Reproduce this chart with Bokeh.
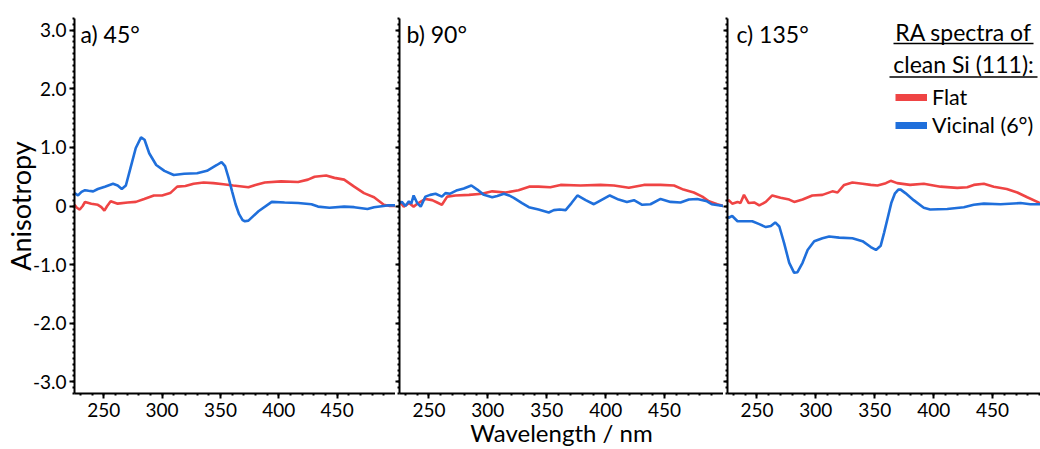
from bokeh.plotting import figure
from bokeh.layouts import row
from bokeh.models import FixedTicker, Label, Legend, LegendItem
from bokeh.embed import file_html
from bokeh.resources import INLINE

# ---------------- data ----------------
# panel a) 45 deg
a_flat_wl = [225, 227, 229.5, 232, 234, 239.4, 245, 248, 250.6, 253, 256, 262, 270.6, 277.6, 284.7, 293, 300, 307, 313, 320,
             327, 335.6, 344, 352.6, 361, 374, 380, 388, 402, 416.6, 425, 430.7, 440.6, 447.7, 456, 464.6, 473, 481.6, 490, 495, 500]
a_flat_ra = [0.02, -0.03, -0.06, 0.0, 0.07, 0.04, 0.02, -0.02, -0.08, 0.0, 0.08, 0.04, 0.06, 0.07, 0.12, 0.18, 0.18, 0.22, 0.33, 0.34,
             0.38, 0.40, 0.39, 0.37, 0.35, 0.32, 0.36, 0.40, 0.42, 0.41, 0.45, 0.50, 0.52, 0.48, 0.45, 0.33, 0.22, 0.15, 0.02, 0.0, 0.0]
a_vic_wl = [225, 228, 231, 234, 237, 241, 245, 251, 258, 262, 265.5, 269, 273, 277.5, 282, 285, 289, 295, 302, 310, 319, 330,
            338.5, 347, 351, 354, 357, 360, 363, 366, 369, 371, 374, 382.6, 394, 405, 416.6, 428, 433.6, 443.4, 456, 464.6, 476,
            481.6, 493, 500]
a_vic_ra = [0.22, 0.18, 0.24, 0.27, 0.26, 0.25, 0.29, 0.33, 0.38, 0.35, 0.29, 0.35, 0.65, 0.99, 1.17, 1.13, 0.90, 0.70, 0.60, 0.53,
            0.55, 0.56, 0.60, 0.70, 0.75, 0.68, 0.48, 0.25, 0.03, -0.14, -0.24, -0.26, -0.25, -0.09, 0.07, 0.06, 0.05, 0.03, -0.01,
            -0.03, -0.01, -0.02, -0.05, -0.02, 0.01, 0.01]

# panel b) 90 deg
b_flat_wl = [225, 228.6, 233, 237, 241, 247, 252.7, 257, 261, 265.5, 272.5, 284, 295, 303.7, 315, 326, 335, 343, 353, 361.7,
             378.6, 395.6, 407, 419.7, 432.4, 446.6, 458, 466, 474.8, 482, 487.6, 494.7, 500]
b_flat_ra = [0.08, -0.01, 0.05, -0.01, 0.05, 0.12, 0.10, 0.06, 0.02, 0.16, 0.18, 0.19, 0.21, 0.25, 0.23, 0.27, 0.33, 0.33, 0.32, 0.36,
             0.35, 0.36, 0.35, 0.31, 0.36, 0.36, 0.35, 0.28, 0.23, 0.16, 0.08, 0.03, 0.0]
b_vic_wl = [225, 227, 230, 233, 235, 237, 240, 243, 247, 251, 255.6, 261, 264, 268, 274, 279.6, 286, 291, 296.6, 303.7, 308,
            313.6, 318, 322, 329, 334.8, 343, 351.7, 356, 361, 366, 371, 376, 383, 390, 397, 403.5, 411, 418, 424, 431, 438,
            446.6, 455, 463.5, 470.6, 477.7, 486, 490, 500]
b_vic_ra = [0.05, 0.07, 0.0, 0.08, 0.04, 0.18, 0.05, -0.01, 0.16, 0.19, 0.21, 0.16, 0.22, 0.21, 0.27, 0.30, 0.35, 0.28, 0.19, 0.15,
            0.17, 0.21, 0.18, 0.14, 0.05, -0.02, -0.06, -0.11, -0.07, -0.06, -0.07, 0.05, 0.18, 0.10, 0.03, 0.11, 0.18, 0.11,
            0.07, 0.10, 0.02, 0.03, 0.12, 0.07, 0.06, 0.11, 0.12, 0.08, 0.03, 0.0]

# panel c) 135 deg
c_flat_wl = [225, 226, 229, 233.5, 236, 239, 243, 247.6, 252, 257.5, 263, 270, 277.4, 281.6, 288.7, 297, 305.6, 314, 318.4, 324,
             331, 339.6, 346.6, 352.3, 359.4, 363.5, 369, 380, 391.6, 405.8, 420, 428.5, 434, 442.6, 451, 462, 471, 479.4, 488, 490.7]
c_flat_ra = [0.08, 0.10, 0.04, 0.07, 0.05, 0.19, 0.05, 0.06, 0.01, 0.07, 0.18, 0.14, 0.11, 0.07, 0.11, 0.18, 0.19, 0.25, 0.23, 0.36,
             0.40, 0.38, 0.36, 0.35, 0.39, 0.43, 0.39, 0.36, 0.38, 0.33, 0.31, 0.32, 0.36, 0.38, 0.33, 0.29, 0.23, 0.15, 0.07, 0.04]
c_vic_wl = [225, 226, 229, 233.5, 240.5, 246, 252, 257.5, 261.8, 265.5, 269, 273, 277.4, 281.6, 284.4, 288.7, 293, 298.6, 305.6,
            311.3, 319.8, 331, 339.6, 346.6, 351, 355, 358, 361, 364, 367, 370, 372, 376, 383, 391.6, 397, 411.5, 425.6, 434,
            442.6, 456.7, 473.7, 482, 490.7]
c_vic_ra = [-0.18, -0.20, -0.17, -0.26, -0.26, -0.26, -0.31, -0.36, -0.34, -0.28, -0.35, -0.63, -0.97, -1.14, -1.13, -0.97, -0.75,
            -0.60, -0.55, -0.52, -0.54, -0.55, -0.60, -0.70, -0.75, -0.68, -0.45, -0.20, 0.05, 0.21, 0.28, 0.28, 0.22, 0.10, -0.03,
            -0.06, -0.05, -0.02, 0.02, 0.04, 0.03, 0.05, 0.03, 0.03]

panel_titles = ["a) 45°", "b) 90°", "c) 135°"]
series_names = ["Flat", "Vicinal (6°)"]
legend_title = ["RA spectra of", "clean Si (111):"]
x_title = "Wavelength / nm"
y_title = "Anisotropy"
x_ticks = [250, 300, 350, 400, 450]
y_ticks = [-3, -2, -1, 0, 1, 2, 3]
y_tick_labels = ["-3.0", "-2.0", "-1.0", "0", "1.0", "2.0", "3.0"]

# ---------------- style ----------------
RED = "#EF4444"
BLUE = "#1F6FDB"
FONT = "Lato"
X0 = 225
Y0, Y1 = -3.2, 3.2
PX = 324 / 275.0      # px per nm
PY = 375 / 6.4        # px per unit
TOP = 18              # frame top (px)
H = 449

x_minor = list(range(230, 500, 10))
y_minor = [round(-3.2 + 0.1 * i, 2) for i in range(65)]


def make_panel(width, x_end, left_border, show_ylabels):
    p = figure(width=width, height=H, x_range=(X0, x_end), y_range=(Y0, Y1),
               output_backend="svg", toolbar_location=None,
               min_border_left=left_border, min_border_right=0,
               min_border_top=TOP, min_border_bottom=H - TOP - 375)
    p.outline_line_color = None
    p.grid.visible = False
    p.background_fill_color = "white"
    p.border_fill_color = "white"
    for ax in (p.xaxis[0], p.yaxis[0]):
        ax.axis_line_width = 2
        ax.axis_line_color = "black"
        ax.major_tick_line_width = 2
        ax.minor_tick_line_width = 2
        ax.major_tick_in = 0
        ax.minor_tick_in = 0
        ax.minor_tick_out = 2
        ax.major_label_text_font = FONT
        ax.major_label_text_font_size = "19px"
        ax.major_label_text_color = "black"
        ax.axis_label_text_font = FONT
        ax.axis_label_text_font_style = "normal"
        ax.axis_label_text_color = "black"
    p.xaxis.ticker = FixedTicker(ticks=x_ticks, minor_ticks=x_minor)
    p.xaxis.major_tick_out = 5
    p.xaxis.major_label_standoff = 4
    p.yaxis.ticker = FixedTicker(ticks=y_ticks, minor_ticks=y_minor)
    if show_ylabels:
        p.yaxis.major_tick_out = 5
        p.yaxis.major_label_overrides = {t: s for t, s in zip(y_ticks, y_tick_labels)}
        p.yaxis.major_label_standoff = 3
    else:
        p.yaxis.major_tick_out = 4
        p.yaxis.major_label_overrides = {t: "" for t in y_ticks}
        p.yaxis.major_label_text_font_size = "0px"
        p.yaxis.major_label_standoff = 0
    return p


pa = make_panel(395, 500, 71, True)
pb = make_panel(328, 500, 4, False)
pc = make_panel(317, X0 + 313 / PX, 4, False)

pa.yaxis.axis_label = y_title
pa.yaxis.axis_label_text_font_size = "27px"
pa.yaxis.axis_label_standoff = -7
pb.xaxis.axis_label = x_title
pb.xaxis.axis_label_text_font_size = "24px"
pb.xaxis.axis_label_standoff = -2

data = [(pa, a_flat_wl, a_flat_ra, a_vic_wl, a_vic_ra),
        (pb, b_flat_wl, b_flat_ra, b_vic_wl, b_vic_ra),
        (pc, c_flat_wl, c_flat_ra, c_vic_wl, c_vic_ra)]
for (p, fw, fr, vw, vr), title, xo in zip(data, panel_titles, [6, 7, 9]):
    p.line(fw, fr, line_color=RED, line_width=2.6)
    p.line(vw, vr, line_color=BLUE, line_width=2.6)
    p.add_layout(Label(x=X0, y=Y1, x_offset=xo, y_offset=-15, text=title,
                       text_font=FONT, text_font_size="23px", text_color="black",
                       text_baseline="alphabetic"))

# legend (panel c)
x_center_leg = X0 + (963 - 727) / PX
for txt, base, ul, half in zip(legend_title, [40.5, 72], [43, 76.5], [70, 74]):
    pc.add_layout(Label(x=x_center_leg, y=Y1, y_offset=-(base - TOP) + 9, text=txt,
                        text_font=FONT, text_font_size="23px", text_color="black",
                        text_align="center", text_baseline="alphabetic"))
    yy = Y1 - (ul - TOP) / PY
    pc.line([x_center_leg - half / PX, x_center_leg + half / PX], [yy, yy], line_color="black", line_width=1.3)

nan = float("nan")
r_flat = pc.line([nan], [nan], line_color=RED, line_width=7)
r_vic = pc.line([nan], [nan], line_color=BLUE, line_width=7)
leg = Legend(items=[LegendItem(label=series_names[0], renderers=[r_flat]),
                    LegendItem(label=series_names[1], renderers=[r_vic])],
             location=(168, 255), orientation="vertical",
             glyph_width=32, glyph_height=22, label_height=22, label_standoff=5,
             spacing=2, padding=0, margin=0,
             border_line_color=None, background_fill_alpha=0,
             label_text_font=FONT, label_text_font_size="21.5px", label_text_color="black")
pc.add_layout(leg)

layout = row(pa, pb, pc, spacing=0)
open("out.html", "w").write(file_html(layout, INLINE))
